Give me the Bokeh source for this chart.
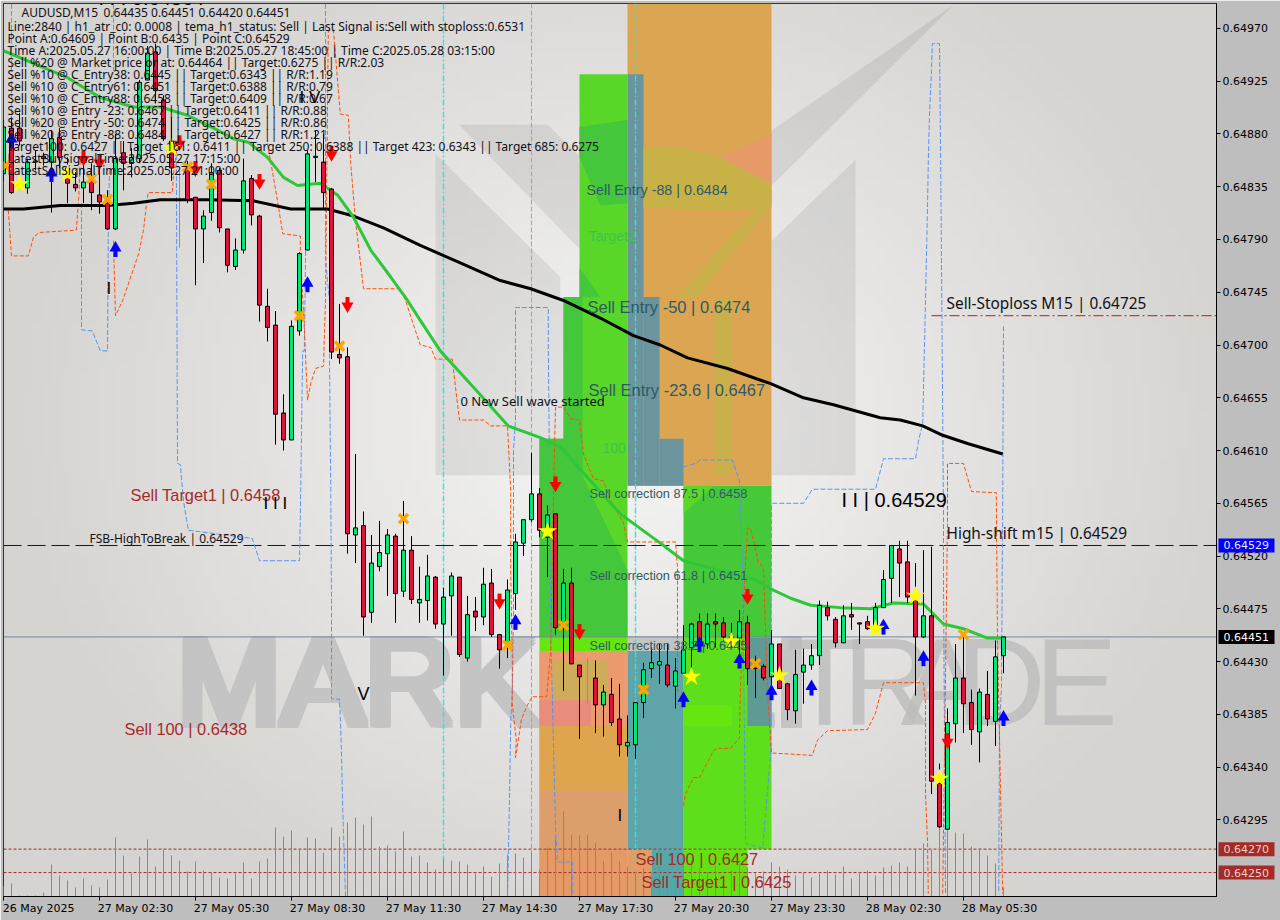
import numpy as np
from bokeh.plotting import figure
from bokeh.models import FixedTicker, Range1d, PrintfTickFormatter, Column
from bokeh.core.properties import value
from bokeh.embed import file_html
from bokeh.resources import INLINE

# ---------- DATA: prices are in points (1e-5), x values are bar numbers (15 min bars) ----------
opens = [64846,64885,64885,64834,64856,64861,64856,64877,64851,64837,64834,64840,64828,64821,64799,64864,64855,64859,64926,64950,64909,64874,None,64851,64826,64799,64813,64849,64799,64767,64781,64842,64810,64733,64717,64642,64619,64712,64781,64860,64856,64833,64692,64690,64538,64546,64472,64511,64522,64537,64490,64525,64480,64482,64502,64462,64486,64502,64433,64473,64468,64497,64453,64445,64488,64531,64551,64573,64536,64556,64459,64497,64427,None,64416,64393,64402,64381,64358,64359,64395,64424,64427,64427,64409,64420,64442,64464,64445,64464,64463,64444,64450,64463,64427,64426,64417,64445,64411,64388,64421,64427,64435,64476,64466,64446,64470,64463,64464,64459,64476,64501,64526,64515,64485,64451,64469,64326,64287,64377,64416,64395,64370,64402,64379,64435]
highs = [64892,64894,64898,64859,64866,64864,64883,64885,64860,64849,64860,64855,64851,64832,64880,64874,64868,64926,64955,64957,64913,64894,None,64857,64826,64815,64855,64851,64799,64791,64859,64845,64811,64748,64729,64658,64721,64779,64866,64883,64880,64834,64735,64698,64607,64558,64538,64550,64543,64539,64567,64537,64511,64521,64503,64493,64506,64502,64486,64485,64510,64509,64453,64500,64539,64551,64608,64578,64563,64556,64509,64510,64427,None,64431,64410,64416,64411,64384,64395,64429,64442,64445,64445,64433,64461,64463,64471,64471,64471,64468,64463,64474,64469,64435,64428,64457,64445,64412,64440,64441,64445,64482,64481,64468,64478,64480,64463,64469,64480,64508,64529,64533,64533,64514,64525,64528,64343,64390,64445,64454,64406,64407,64422,64448,64451]
lows = [64840,64829,64870,64829,64849,64853,64813,64851,64821,64831,64821,64815,64812,64798,64798,64832,64843,64855,64926,64906,64874,64840,None,64821,64751,64770,64806,64796,64762,64764,64778,64802,64720,64703,64615,64610,64619,64708,64781,64839,64817,64688,64684,64522,64514,64452,64463,64507,64486,64463,64485,64479,64463,64465,64458,64418,64452,64434,64430,64456,64461,64451,64424,64433,64474,64520,64549,64536,64502,64453,64405,64428,64364,None,64369,64366,64375,64349,64349,64347,64382,64416,64411,64408,64390,64420,64425,64438,64441,64442,64448,64442,64433,64410,64399,64414,64405,64407,64380,64377,64394,64423,64427,64465,64442,64446,64457,64445,64457,64459,64476,64480,64485,64480,64401,64450,64317,64288,64287,64361,64369,64359,64344,64375,64358,64420]
closes = [64886,64830,64874,64856,64857,64859,64876,64860,64838,64834,64839,64830,64822,64799,64859,64855,64860,64924,64949,64917,64876,64851,None,64824,64799,64810,64847,64800,64768,64781,64840,64811,64734,64715,64641,64619,64716,64778,64863,64861,64830,64694,64689,64539,64544,64468,64514,64523,64538,64488,64525,64483,64483,64503,64462,64485,64503,64436,64470,64468,64496,64453,64440,64491,64532,64551,64573,64542,64555,64459,64497,64428,64417,None,64393,64404,64378,64359,64361,64395,64423,64429,64430,64410,64422,64440,64462,64446,64462,64462,64451,64451,64464,64424,64424,64416,64445,64407,64389,64419,64427,64435,64478,64469,64446,64469,64468,64462,64458,64476,64500,64529,64514,64485,64451,64469,64328,64289,64378,64416,64394,64372,64404,64381,64434,64451]

tick_volume = [100,130,10,10,10,40,320,210,160,90,180,110,90,170,590,410,230,400,570,300,470,410,360,250,350,260,240,190,180,230,340,180,350,380,690,600,660,470,590,580,440,690,600,740,790,720,800,500,510,450,650,400,410,340,270,370,360,350,320,230,300,200,330,420,430,390,450,270,490,590,850,620,610,620,540,350,440,350,300,250,280,240,300,260,220,330,360,280,240,310,200,260,330,290,230,250,340,300,270,210,240,190,230,260,220,300,180,240,260,210,290,310,340,300,480,530,470,880,690,640,630,500,480,410,330,90]

ema_bars = [0,8,12.1,16.25,19.6,23,26.25,28.75,30.6,33,35,36.75,39.6,41.75,43.75,45.9,48.4,50.5,52.1,54.6,58.75,63.1,67.1,69.6,73,77.1,82.1,85,94.25,95.9,98.4,100.9,104.6,108.4,111.25,115,117.5,120,123,125]
ema_vals = [64951,64928,64911,64903,64903,64896,64885,64876,64873,64860,64843,64836,64838,64828,64809,64781,64758,64738,64721,64695,64664,64631,64621,64613,64587,64556,64531,64516,64499,64492,64484,64478,64476,64475,64480,64479,64462,64458,64450,64450]
ma_bars = [0,2.5,7.1,13,16.25,19.6,25.5,31.25,35.9,40.5,43.75,47.5,52.1,57.1,62.1,65.9,70,74.6,78.75,82.1,85.5,90.5,95.9,100,103.75,109.6,112.1,114.9,117.4,120.5,124.9]
ma_vals = [64816,64816,64819,64819,64821,64824,64824,64823,64816,64816,64810,64800,64785,64770,64755,64748,64738,64723,64708,64700,64689,64680,64667,64655,64649,64638,64636,64631,64623,64616,64607]

upper_band_bars = [
 [1,1],
 [9.75,9.75,11.1,12.1,13,13.1,13.25],
 [13.75,13.75],
 [21.6,21.75,22.1,22.5,23.1,31.1,32,37,37.1,37.25,37.4,37.6,37.9,37.9],
 [40.25,40.25,40.75,40.75,40.9,41,41,42,42.1,42.25,42.4,42.75],
 [63,63.25,63.4,63.6,63.75,63.75,64,64,68.1,68.1,68.25,68.4,69,69.25,71.1,71.1],
 [85,86.5,87.1,91.1,92,92.1,92.4,92.75,94.9,95.9,96,96.1,100,101.1,109,110,114,114.4,114.9,115.25,115.5,115.6,115.75,116,116.1,117,117.1,117.25,117.5,117.5,117.75],
 [125,124.9,124.75,124.5,124.4],
]
upper_band_vals = [
 [64991,64879],
 [64821,64713,64712,64695,64695,64798,64849],
 [64991,64934],
 [64868,64599,64598,64567,64542,64535,64516,64516,64552,64625,64695,64695,64849,64866],
 [64991,64772,64738,64687,64584,64482,64398,64398,64383,64352,64306,64230],
 [64230,64313,64377,64405,64468,64610,64636,64732,64732,64701,64587,64456,64289,64259,64259,64230],
 [64596,64599,64602,64602,64584,64570,64508,64275,64271,64352,64563,64565,64565,64577,64577,64603,64603,64619,64633,64738,64817,64857,64897,64934,64957,64957,64892,64772,64553,64497,64232],
 [64716,64567,64408,64374,64232],
]
lower_band_bars = [
 [0.6,1,3.1,3.75,4.5,9.1,9.4,9.6],
 [13.75,14,14.9,16.25,16.9,17.5,17.9,18.1,21.1,21.25,21.75],
 [33,34.25,34.9,37.1,37.1,37.6,38,38.4,39,40,40.25,40.6,41.25,42.1,43.1,43.4,44,45,49.6,50.25,51.5,52.1,53.4,54,56.1,56.5,57,60,60.9,63,63.4,63.4,63.6,63.6,64.1,64,64.75,65.5,66.1,67.9,68.4,68.75,69,70,70.9,72,72.5,73.75,75,75.9,77.5,78,84,84.25,84.25,84.6],
 [85,85.25,86.25,87,88.75,89.25,90.9,92,92.1,92.75,93,93.4,94.4,94.6,95,95.5,96,101.1,101.75,103,108,109,110,115,115.25,115.25,115.5,115.6],
 [117.4,118,118,120,121,124.1,124.25,124.9],
]
lower_band_vals = [
 [64815,64776,64776,64792,64796,64798,64825,64860],
 [64789,64725,64738,64765,64778,64798,64822,64830,64830,64846,64872],
 [64872,64823,64795,64793,64778,64715,64653,64667,64680,64682,64738,64968,64968,64897,64896,64855,64806,64748,64748,64738,64712,64700,64698,64688,64688,64664,64636,64636,64631,64631,64576,64508,64431,64394,64363,64348,64381,64393,64400,64400,64439,64573,64647,64647,64637,64636,64607,64586,64584,64567,64548,64532,64532,64510,64405,64405],
 [64307,64317,64331,64331,64354,64356,64356,64365,64403,64514,64544,64543,64514,64514,64508,64403,64352,64350,64363,64371,64372,64386,64412,64412,64394,64317,64277,64232],
 [64232,64550,64599,64599,64575,64574,64448,64232],
]

buy_arrow_bars = [1,6,14,38,64,85,87,92,96,101,110,115,125]
buy_arrow_vals = [64874,64845,64781,64751,64463,64397,64444,64430,64403,64407,64459,64432,64381]
sell_arrow_bars = [10,12,22,24,32,41,43,62,69,72,93,118]
sell_arrow_vals = [64860,64857,64873,64851,64840,64864,64735,64482,64582,64456,64486,64363]
star_bars = [2,8,21,68,86,91,97,109,114,117]
star_vals = [64837,64846,64868,64541,64417,64447,64418,64458,64486,64330]
cross_bars = [0.25,11,13,23,26,37,42,50,63,70,80,94,120]
cross_vals = [64853,64842,64824,64852,64837,64725,64699,64552,64444,64461,64406,64428,64453]
thin_bars = [22,73]
thin_tops = [64849,64433]
thin_bottoms = [64783,64394]

# price zones: left bar, right bar, upper price, lower price, colour
zone_left  = [78,78,80,82,72,70,67,67,85,85,85,67,78,78,81,93,67,68.6,67,67,67,67,85]
zone_right = [96,80,82,85,78,78,70,78,96,96,93,78,81,85,85,96,78,75.6,73.4,78,78,78,91.1]
zone_top   = [64991,64931,64741,64620,64931,64741,64620,64451,64580,64451,64270,64439,64270,64439,64270,64450,64439,64431,64397,64375,64320,64270,64393]
zone_bot   = [64580,64580,64580,64580,64741,64451,64451,64439,64451,64270,64230,64230,64230,64270,64230,64375,64375,64397,64375,64320,64270,64230,64375]
zone_color = ["#dca552","#6b949c","#6b949c","#6b949c","#58d728","#58d728","#44c73a","#66e60f","#45c938","#5ddf1c","#62e311","#df9f62","#e09e66","#5fa4a8","#55a8a9","#5f9a94","#ec9a6f","#cfac5c","#e88c7c","#dea44e","#dc9f6b","#e59a66","#66e60f"]

patch_bars = [[70,72.4,72.4,78,78,67,67,70],[72,78,78,74.6,72],[72,74.6,72],[85,88.75,85],
              [80,84.6,89.6,96,96,87.1,82.1,80],[89.6,96,96],[88.9,91,91,88.9],[84.2,96,96,86.7]]
patch_vals = [[64741,64741,64588,64508,64451,64451,64620,64620],[64886,64892,64821,64819,64860],[64766,64741,64741],[64556,64580,64580],
              [64868,64869,64860,64838,64817,64815,64817,64817],[64860,64880,64838],[64741,64741,64589,64589],[64741,64832,64819,64741]]
patch_color = ["#44c73a","#44c73a","#44c73a","#5ad728","#c8b248","#e59a68","#c9b04a","#c9b04a"]

logo_bars = [[56.9,68,72,72],[54,69.6,69.6,70,70,54],[96,106.5,106.5,96],[96,118.75,99.6,96]]
logo_vals = [[64888,64888,64861,64782],[64863,64758,64741,64741,64589,64589],[64789,64858,64589,64589],[64883,64990,64860,64836]]

level_fsb = 64529
level_last = 64451
level_sell100 = 64270
level_target1 = 64250
level_stoploss = 64725

y_tick_vals = [64970,64925,64880,64835,64790,64745,64700,64655,64610,64565,64520,64475,64430,64385,64340,64295]
x_tick_bars = [0,12,24,36,48,60,72,84,96,108,120]
x_tick_labels = ["26 May 2025","27 May 02:30","27 May 05:30","27 May 08:30","27 May 11:30","27 May 14:30","27 May 17:30","27 May 20:30","27 May 23:30","28 May 02:30","28 May 05:30"]

tag_levels = [level_fsb, level_last, level_sell100, level_target1]
tag_texts = ["0.64529", "0.64451", "0.64270", "0.64250"]
tag_fill = ["#0000ff", "#000000", "#a52a2a", "#a52a2a"]
tag_ink = ["#e8e8e8", "#ffffff", "#f0d0c0", "#f0d0c0"]

header_lines = [
 "Line:2840 | h1_atr_c0: 0.0008 | tema_h1_status: Sell | Last Signal is:Sell with stoploss:0.6531",
 "Point A:0.64609 | Point B:0.6435 | Point C:0.64529",
 "Time A:2025.05.27 16:00:00 | Time B:2025.05.27 18:45:00 | Time C:2025.05.28 03:15:00",
 "Sell %20 @ Market price or at: 0.64464 || Target:0.6275 || R/R:2.03",
 "Sell %10 @ C_Entry38: 0.6445 || Target:0.6343 || R/R:1.19",
 "Sell %10 @ C_Entry61: 0.6451 || Target:0.6388 || R/R:0.79",
 "Sell %10 @ C_Entry88: 0.6458 || Target:0.6409 || R/R:0.67",
 "Sell %10 @ Entry -23: 0.6467 || Target:0.6411 || R/R:0.88",
 "Sell %20 @ Entry -50: 0.6474 || Target:0.6425 || R/R:0.86",
 "Sell %20 @ Entry -88: 0.6484 || Target:0.6427 || R/R:1.21",
 "Target100: 0.6427 || Target 161: 0.6411 || Target 250: 0.6388 || Target 423: 0.6343 || Target 685: 0.6275",
 "LatestBuySignalTime:2025.05.27 17:15:00",
 "LatestSellSignalTime:2025.05.27 21:00:00",
]

# ---------- figure ----------
PT = 1e-5
frame_w, frame_h = 1213, 893
PX = (0.649913 - 0.642296) / frame_h
Y_TOP, Y_BOT = 0.649913, 0.642296
X_START = 0.0
X_END = X_START + frame_w / 8

def bar_at(px):            # annotation placement only
    return (px - 3) / 8 + X_START
def price_at(py):
    return Y_TOP - (py - 3) * PX
def arr(v):
    return np.array(v, dtype=float) * PT

p = figure(width=1280, height=920, output_backend="svg", toolbar_location=None, tools="",
           x_range=Range1d(X_START, X_END), y_range=Range1d(Y_BOT, Y_TOP), y_axis_location="right",
           min_border_left=3, min_border_top=3, min_border_right=64, min_border_bottom=24,
           background_fill_color="#e6e6e6", border_fill_color="#bebebe",
           outline_line_color="black", outline_line_width=1, frame_align=False,
           styles={"position": "absolute", "left": "0px", "top": "0px"})
p.xgrid.visible = False
p.ygrid.visible = False
p.extra_y_ranges = {"vol": Range1d(0, 8930)}

# axes
ya = p.yaxis[0]
ya.ticker = FixedTicker(ticks=[v * PT for v in y_tick_vals])
ya.formatter = PrintfTickFormatter(format="%.5f")
ya.major_tick_in = 0
ya.major_tick_out = 4
ya.minor_tick_line_color = None
ya.major_label_standoff = 2
ya.major_label_text_font = "DejaVu Sans"
ya.major_label_text_font_size = "11px"
ya.major_label_text_color = "#000000"
ya.axis_line_color = "black"

label_centers = [b + (4.4 if i == 0 else 4.5) for i, b in enumerate(x_tick_bars)]
xa = p.xaxis[0]
xa.ticker = FixedTicker(ticks=label_centers, minor_ticks=x_tick_bars)
xa.major_label_overrides = {c: t for c, t in zip(label_centers, x_tick_labels)}
xa.major_tick_line_color = None
xa.minor_tick_line_color = "black"
xa.minor_tick_in = 0
xa.minor_tick_out = 4
xa.major_tick_out = 4
xa.major_tick_in = 0
xa.major_label_standoff = 1
xa.major_label_text_font = "DejaVu Sans"
xa.major_label_text_font_size = "11px"
xa.major_label_text_color = "#000000"
xa.axis_line_color = "black"

# background gradient
ny, nx = 92, 128
yy, xx = np.mgrid[0:ny, 0:nx]
gx = (xx / (nx - 1)) * frame_w
gy = (1 - yy / (ny - 1)) * frame_h
r = np.clip(np.hypot(gx - 620, (gy - 420) * 1.15) / 620, 0, 1)
lo, hi = np.array([0xf6, 0xf6, 0xf6]), np.array([0xd6, 0xd4, 0xd1])
img = np.zeros((ny, nx), dtype=np.uint32)
view = img.view(dtype=np.uint8).reshape((ny, nx, 4))
for c in range(3):
    view[:, :, c] = (lo[c] + (hi[c] - lo[c]) * r).astype(np.uint8)
view[:, :, 3] = 255
p.image_rgba(image=[img], x=X_START, y=Y_BOT, dw=X_END - X_START, dh=Y_TOP - Y_BOT)

# logo + watermark
p.patches([b for b in logo_bars], [list(arr(v)) for v in logo_vals], fill_color="#000000", fill_alpha=0.07, line_color=None)
for dx in (0, 3, 6, 9):
    for dy in (-3, 0, 3):
        p.text(x=[bar_at(172 + dx)], y=[price_at(681 + dy)], text=["MARKETZI"], text_font=value("Liberation Sans"),
               text_font_size=value("125px"), text_color="#c4c4c4", text_baseline="middle", text_align="left")
for ch, px in zip("TRADE", [786, 842, 900, 955, 1034]):
    p.text(x=[bar_at(px)], y=[price_at(681)], text=[ch], text_font=value("Liberation Sans"),
           text_font_size=value("125px"), text_color="#bcbcbc", text_alpha=0.8, text_baseline="middle", text_align="left")

# zones
p.quad(left=zone_left, right=zone_right, top=arr(zone_top), bottom=arr(zone_bot), fill_color=zone_color, line_color=None)
p.patches(patch_bars, [list(arr(v)) for v in patch_vals], fill_color=patch_color, line_color=None)

# level lines
p.segment(x0=[55, 79], x1=[55, 79], y0=[Y_TOP, Y_TOP], y1=arr([64260, 64260]), line_color="#27e6e6", line_width=1.4, line_dash="6 2 2 2")
p.segment(x0=[66], x1=[66], y0=[Y_TOP], y1=[Y_BOT], line_color="#e88a7a", line_width=1, line_dash="5 2")
p.segment(x0=[X_START], x1=[X_END], y0=[level_last * PT], y1=[level_last * PT], line_color="#7088a0", line_width=1)
p.segment(x0=[X_START], x1=[X_END], y0=[level_fsb * PT], y1=[level_fsb * PT], line_color="#0000cc", line_width=1, line_dash="18 6")
p.segment(x0=[X_START, X_START], x1=[X_END, X_END], y0=arr([level_sell100, level_target1]), y1=arr([level_sell100, level_target1]), line_color="#a52a2a", line_width=1, line_dash="3 2")
p.segment(x0=[116], x1=[X_END], y0=[level_stoploss * PT], y1=[level_stoploss * PT], line_color="#c81414", line_width=1, line_dash="10 3 2 3")

# volume
bars = np.arange(len(opens))
p.segment(x0=bars, x1=bars, y0=0, y1=tick_volume, y_range_name="vol", line_color="#33c333", line_width=1)
p.segment(x0=thin_bars, x1=thin_bars, y0=arr(thin_tops), y1=arr(thin_bottoms), line_color="#47c24a", line_width=1)

# bands
p.multi_line(upper_band_bars, [list(arr(v)) for v in upper_band_vals], line_color="#5b94f0", line_width=1, line_dash="5 2")
p.multi_line(lower_band_bars, [list(arr(v)) for v in lower_band_vals], line_color="#ff4d0a", line_width=1, line_dash="4 2")

# moving averages
p.line(ma_bars, arr(ma_vals), line_color="#000000", line_width=3)
p.line(ema_bars, arr(ema_vals), line_color="#2fc73a", line_width=3)

# candles
o, h, l, c = arr(opens), arr(highs), arr(lows), arr(closes)
ok = ~np.isnan(o)
up = ok & (c >= o)
dn = ok & (c < o)
p.segment(x0=bars[ok], x1=bars[ok], y0=l[ok], y1=h[ok], line_color="black", line_width=1)
p.vbar(x=bars[up], width=0.5, bottom=o[up], top=c[up], fill_color="#00e676", line_color="black", line_width=1)
p.vbar(x=bars[dn], width=0.5, bottom=c[dn], top=o[dn], fill_color="#dc143c", line_color="black", line_width=1)

# signals
ub, uv = np.array(buy_arrow_bars, float), arr(buy_arrow_vals)
p.segment(x0=ub, x1=ub, y0=uv - 7 * PX, y1=uv, line_color="#0000ff", line_width=4)
p.scatter(ub, uv + 2 * PX, marker="triangle", size=12, fill_color="#0000ff", line_color=None)
db, dv = np.array(sell_arrow_bars, float), arr(sell_arrow_vals)
p.segment(x0=db, x1=db, y0=dv + 7 * PX, y1=dv, line_color="#ff0000", line_width=4)
p.scatter(db, dv - 2 * PX, marker="inverted_triangle", size=12, fill_color="#ff0000", line_color=None)
p.scatter(star_bars, arr(star_vals), marker="star", size=20, fill_color="#ffff00", line_color=None)
p.scatter(cross_bars, arr(cross_vals), marker="x", size=13, line_color="#ffa500", line_width=3.5)

# texts
def put(t, px, py, size, color, font="Noto Sans", alpha=1.0):
    p.text(x=[bar_at(px)], y=[price_at(py)], text=[t], text_font=value(font),
           text_font_size=value(f"{size}px"), text_color=color, text_alpha=alpha,
           text_baseline="middle", text_align="left")

ARIAL = "Liberation Sans"
put("AUDUSD,M15", 21, 12, 12, "#101018")
put("0.64435 0.64451 0.64420 0.64451", 103, 12, 12, "#101018")
for i, line in enumerate(header_lines):
    put(line, 7, 26 + 12 * i, 12, "#101018")

BROWN = "#a52a2a"
TEAL = "#2f5a66"
put("Sell Target1 | 0.6458", 130, 494, 16.4, BROWN, ARIAL)
put("FSB-HighToBreak | 0.64529", 89, 538, 12, "#101018")
put("Sell 100 | 0.6438", 124, 728, 16.4, BROWN, ARIAL)
put("0 New Sell wave started", 460, 400, 13, "#101018")
put("Sell Entry -88 | 0.6484", 586, 189, 14.3, TEAL, ARIAL)
put("Target2", 588, 235, 14.3, "#3ec44a", ARIAL)
put("Sell Entry -50 | 0.6474", 587, 306, 16.5, TEAL, ARIAL)
put("Sell Entry -23.6 | 0.6467", 588, 389, 16.5, TEAL, ARIAL)
put("100", 602, 447, 14, "#3ec44a", ARIAL)
put("Sell correction 87.5 | 0.6458", 589, 493, 12.7, TEAL, ARIAL)
put("Sell correction 61.8 | 0.6451", 589, 575, 12.7, TEAL, ARIAL)
put("Sell correction 38.2 | 0.6445", 589, 645, 12.7, TEAL, ARIAL)
put("Sell 100 | 0.6427", 635, 858, 16.4, BROWN, ARIAL)
put("Sell Target1 | 0.6425", 641, 881, 16.4, BROWN, ARIAL)
put("Sell-Stoploss M15 | 0.64725", 946, 303, 15.4, "#101018")
put("High-shift m15 | 0.64529", 946, 533, 15.4, "#101018")
put("I I | 0.64529", 841, 499, 20, "#000000", ARIAL)
put("I I I 0.64864", 98, -3, 20, "#000000", ARIAL)
put("I V", 299, 97, 17, "#000000", ARIAL)
put("I", 106, 288, 17, "#000000", ARIAL)
put("I I I", 263, 503, 17, "#000000", ARIAL)
put("V", 357, 693, 18, "#000000", ARIAL)
put("I", 617, 815, 17, "#000000", ARIAL)

# price tags: a transparent figure laid over the whole chart, sharing its price range
tags = figure(width=1280, height=920, output_backend="svg", toolbar_location=None, tools="",
              x_range=Range1d(0, 1280), y_range=p.y_range, x_axis_type=None, y_axis_type=None,
              min_border_left=0, min_border_right=0, min_border_top=3, min_border_bottom=24,
              background_fill_color=None, border_fill_color=None, outline_line_color=None, frame_align=False,
              styles={"position": "absolute", "left": "0px", "top": "0px"})
tags.xgrid.visible = False
tags.ygrid.visible = False
tag_y = arr(tag_levels)
tags.quad(left=1218, right=1274, top=tag_y + 7 * PX, bottom=tag_y - 7 * PX, fill_color=tag_fill, line_color=None)
tags.text(x=1223, y=tag_y, text=tag_texts, text_color=tag_ink, text_font=value("DejaVu Sans"),
          text_font_size=value("11px"), text_baseline="middle", text_align="left")

page = Column(children=[p, tags], width=1280, height=920)
open("out.html", "w").write(file_html(page, INLINE))
